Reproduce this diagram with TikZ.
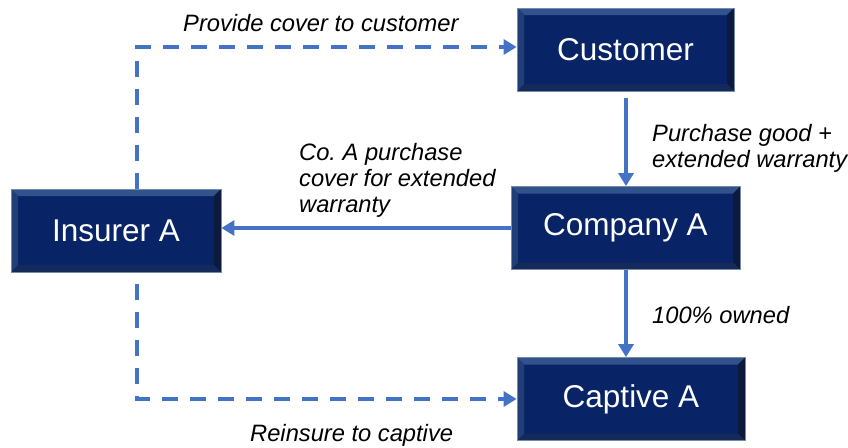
\documentclass[tikz,border=0pt]{standalone}
\usepackage{fontspec}
\setmainfont{Liberation Sans}
\usetikzlibrary{arrows.meta}

\definecolor{navy}{RGB}{8,36,102}
\definecolor{rimgrey}{RGB}{118,138,170}
\definecolor{bevtop}{RGB}{50,82,140}
\definecolor{bevleft}{RGB}{34,62,118}
\definecolor{bevbot}{RGB}{20,42,90}
\definecolor{bevright}{RGB}{12,26,60}
\definecolor{flow}{RGB}{68,114,196}

\tikzset{
  entity/.style={inner sep=0pt, minimum height=83pt, text=white,
    font=\fontsize{31.5}{36}\selectfont, fill=navy, draw=rimgrey, line width=0.8pt,
    path picture={
      \coordinate (pnw) at (path picture bounding box.north west);
      \coordinate (pne) at (path picture bounding box.north east);
      \coordinate (pse) at (path picture bounding box.south east);
      \coordinate (psw) at (path picture bounding box.south west);
      \fill[bevtop] (pnw) -- (pne) -- ([shift={(-7pt,-7pt)}]pne) -- ([shift={(7pt,-7pt)}]pnw) -- cycle;
      \fill[bevright] (pne) -- (pse) -- ([shift={(-7pt,7pt)}]pse) -- ([shift={(-7pt,-7pt)}]pne) -- cycle;
      \fill[bevbot] (pse) -- (psw) -- ([shift={(7pt,7pt)}]psw) -- ([shift={(-7pt,7pt)}]pse) -- cycle;
      \fill[bevleft] (psw) -- (pnw) -- ([shift={(7pt,-7pt)}]pnw) -- ([shift={(7pt,7pt)}]psw) -- cycle;
    }},
  flowline/.style={draw=flow, line width=3.3pt, -{Triangle[length=13pt,width=15pt]}},
  flowdash/.style={flowline, dash pattern=on 16pt off 12pt},
  note/.style={anchor=base west, inner sep=0pt, align=left,
    font=\fontsize{23.7}{26}\selectfont\itshape}
}

\begin{document}
\begin{tikzpicture}[x=1pt, y=-1pt]
  \useasboundingbox (0,0) rectangle (848,447);

  % the four parties
  \node[entity, minimum width=217pt] (cust) at (625.5,49.5) {Customer};
  \node[entity, minimum width=229pt] (comp) at (625.5,228) {Company A};
  \node[entity, minimum width=210pt] (ins)  at (116,230.5) {Insurer A};
  \node[entity, minimum width=228pt] (capt) at (631,399) {Captive A};

  % flows
  \draw[flowline, shorten <=7pt] (cust.south -| 626,0) -- (comp.north -| 626,0);
  \draw[flowline] (comp.west) -- (comp.west -| ins.east);
  \draw[flowline] (comp.south -| 626,0) -- (capt.north -| 626,0);
  \draw[flowdash] ([xshift=21pt]ins.north) |- ([yshift=2.5pt]cust.west);
  \draw[flowdash] ([xshift=21pt,yshift=-12pt]ins.south) |- (capt.west);

  % labels (base = last line)
  \node[note] (lblcover) at (183,31) {Provide cover to customer};
  \node[note] (lblbuy)   at (652,167) {Purchase good +\\extended warranty};
  \node[note] (lblfund)  at (299,212) {Co.\ A purchase\\cover for extended\\warranty};
  \node[note] (lblown)   at (652,323) {100\% owned};
  \node[note] (lblre)    at (250,441) {Reinsure to captive};
\end{tikzpicture}
\end{document}
